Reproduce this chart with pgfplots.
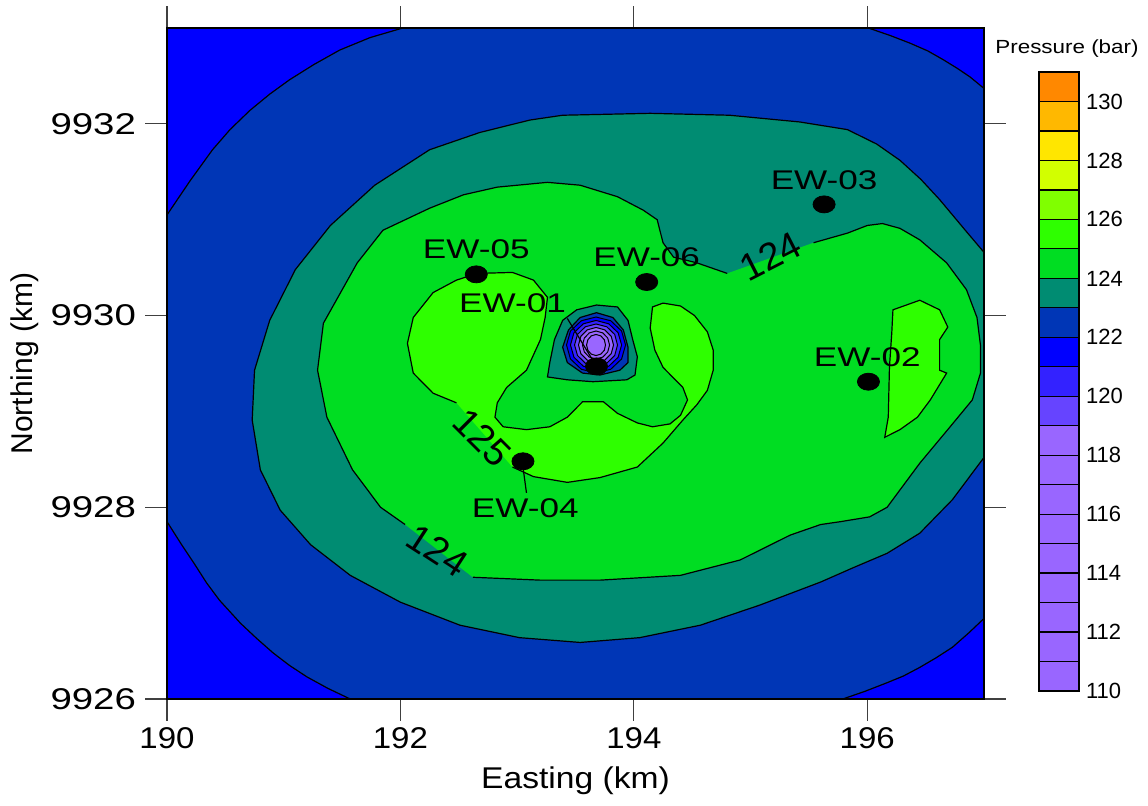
\documentclass[border=0pt]{standalone}
\usepackage{fontspec}
\setmainfont{Liberation Sans}
\usepackage{pgfplots}
\pgfplotsset{compat=1.18}
\definecolor{cOrange}{HTML}{FF8800}
\definecolor{cGold}{HTML}{FFB800}
\definecolor{cYellow}{HTML}{FFE600}
\definecolor{cYG}{HTML}{D2FF00}
\definecolor{cChart}{HTML}{80FF00}
\definecolor{cLGreen}{HTML}{2EFF00}
\definecolor{cGreen}{HTML}{00DD22}
\definecolor{cTeal}{HTML}{008C72}
\definecolor{cDBlue}{HTML}{0036B6}
\definecolor{cBlue}{HTML}{0000FF}
\definecolor{cBP}{HTML}{3322FF}
\definecolor{cPB}{HTML}{6644FF}
\definecolor{cLav}{HTML}{9966FF}
\begin{document}
\begin{tikzpicture}
\useasboundingbox (0,0) rectangle (574pt,402.5pt);
\begin{axis}[
 at={(83.5pt,53pt)}, anchor=south west, scale only axis, width=408.5pt, height=335.5pt,
 xmin=190, xmax=197, ymin=9926, ymax=9933,
 xtick={190,192,194,196}, xticklabels={190,192,194,196},
 ytick={9926,9928,9930,9932}, yticklabels={9926,9928,9930,9932},
 tick align=outside, xtick pos=both, ytick pos=both, major tick length=11pt,
 tick style={draw=black!75, line width=0.6pt},
 x tick label style={font=\fontsize{15}{18}\selectfont, xscale=1.1},
 y tick label style={font=\fontsize{15}{18}\selectfont, xscale=1.28},
 axis line style={black, line width=0.6pt},
 axis on top,
 xlabel={Easting (km)}, ylabel={Northing (km)},
 every axis x label/.style={at={(axis description cs:0.5,-0.122)}, anchor=center, font=\fontsize{15}{18}\selectfont, xscale=1.12},
 every axis y label/.style={at={(axis description cs:-0.174,0.5)}, anchor=center, rotate=90, font=\fontsize{15}{18}\selectfont},
]
% background level 121-122
\addplot[fill=cBlue, draw=none] coordinates {(190,9926)(197,9926)(197,9933)(190,9933)} -- cycle;
% 122-123
\addplot[fill=cDBlue, draw=black, line width=0.6pt] coordinates {
(192.02,9933.00)(196.01,9933.00)(196.20,9932.92)(196.37,9932.84)(196.52,9932.76)(196.65,9932.67)(196.77,9932.58)(196.88,9932.49)(197.00,9932.37)
(197.00,9926.84)(196.87,9926.69)(196.73,9926.54)(196.59,9926.43)(196.45,9926.33)(196.31,9926.24)(196.17,9926.17)(195.98,9926.08)(195.79,9926.00)
(191.57,9926.00)(191.38,9926.11)(191.20,9926.23)(191.05,9926.35)(190.91,9926.48)(190.77,9926.63)(190.63,9926.79)(190.45,9927.03)(190.34,9927.21)(190.24,9927.40)(190.12,9927.62)(190.00,9927.85)
(190.00,9931.05)(190.10,9931.23)(190.20,9931.41)(190.39,9931.73)(190.54,9931.94)(190.71,9932.14)(190.88,9932.31)(191.05,9932.46)(191.26,9932.62)(191.48,9932.77)(191.74,9932.90)} -- cycle;
% 123-124
\addplot[fill=cTeal, draw=black, line width=0.6pt] coordinates {
(193.39,9932.09)(194.14,9932.11)(194.82,9932.09)(195.42,9932.02)(195.83,9931.94)(196.08,9931.79)(196.28,9931.62)(196.46,9931.42)(196.62,9931.21)(196.84,9930.89)(197.00,9930.66)
(197.00,9928.52)(196.73,9928.08)(196.45,9927.73)(196.17,9927.52)(195.88,9927.37)(195.60,9927.22)(195.08,9926.98)(194.57,9926.77)(194.05,9926.64)(193.54,9926.59)(193.02,9926.64)(192.51,9926.77)(192.00,9927.01)(191.57,9927.29)(191.23,9927.61)(190.97,9927.97)(190.80,9928.39)(190.73,9928.91)(190.75,9929.43)(190.88,9929.95)(191.10,9930.48)(191.40,9930.94)(191.78,9931.36)(192.25,9931.73)(192.68,9931.91)(193.11,9932.04)} -- cycle;
% 124-125
\addplot[fill=cGreen, draw=none] coordinates {
(191.85,9930.89)(192.25,9931.12)(192.54,9931.26)(192.83,9931.34)(193.26,9931.39)(193.54,9931.36)(193.86,9931.24)(194.08,9931.10)(194.20,9931.00)(194.25,9930.76)(194.34,9930.61)(194.54,9930.55)(194.80,9930.44)
(195.54,9930.76)(195.83,9930.86)(196.00,9930.94)(196.13,9930.96)(196.28,9930.91)(196.45,9930.79)(196.68,9930.55)(196.85,9930.27)(196.94,9929.98)(196.97,9929.69)(196.97,9929.40)(196.90,9929.12)(196.71,9928.84)(196.45,9928.46)(196.17,9928.00)(196.02,9927.90)(195.77,9927.85)(195.60,9927.82)(195.34,9927.71)(194.91,9927.45)(194.40,9927.29)(193.71,9927.24)(193.20,9927.24)(192.62,9927.27)
(192.04,9927.82)(191.83,9928.00)(191.59,9928.39)(191.37,9928.94)(191.29,9929.43)(191.34,9929.92)(191.63,9930.55)} -- cycle;
\addplot[black, line width=0.6pt] coordinates {
(195.54,9930.76)(195.83,9930.86)(196.00,9930.94)(196.13,9930.96)(196.28,9930.91)(196.45,9930.79)(196.68,9930.55)(196.85,9930.27)(196.94,9929.98)(196.97,9929.69)(196.97,9929.40)(196.90,9929.12)(196.71,9928.84)(196.45,9928.46)(196.17,9928.00)(196.02,9927.90)(195.77,9927.85)(195.60,9927.82)(195.34,9927.71)(194.91,9927.45)(194.40,9927.29)(193.71,9927.24)(193.20,9927.24)(192.62,9927.27)};
\addplot[black, line width=0.6pt] coordinates {
(192.04,9927.82)(191.83,9928.00)(191.59,9928.39)(191.37,9928.94)(191.29,9929.43)(191.34,9929.92)(191.63,9930.55)
(191.85,9930.89)(192.25,9931.12)(192.54,9931.26)(192.83,9931.34)(193.26,9931.39)(193.54,9931.36)(193.86,9931.24)(194.08,9931.10)(194.20,9931.00)(194.25,9930.76)(194.34,9930.61)(194.54,9930.55)(194.80,9930.44)};
% 125-126 near EW-02
\addplot[fill=cLGreen, draw=black, line width=0.6pt] coordinates {
(196.22,9930.06)(196.45,9930.16)(196.62,9930.06)(196.69,9929.88)(196.62,9929.75)(196.62,9929.43)(196.68,9929.40)(196.54,9929.12)(196.43,9928.94)(196.28,9928.81)(196.15,9928.73)(196.18,9928.94)(196.19,9929.46)(196.21,9929.82)} -- cycle;
% 125-126 horseshoe
\addplot[fill=cLGreen, draw=none] coordinates {
(192.96,9928.42)(193.14,9928.32)(193.43,9928.26)(193.71,9928.31)(194.03,9928.42)(194.25,9928.67)(194.42,9928.91)(194.54,9929.07)(194.63,9929.22)(194.68,9929.43)(194.68,9929.64)(194.63,9929.83)(194.52,9930.00)(194.40,9930.10)(194.25,9930.13)(194.16,9930.09)
(194.14,9929.87)(194.18,9929.64)(194.25,9929.46)(194.42,9929.25)(194.46,9929.12)(194.40,9928.96)(194.31,9928.87)(194.16,9928.84)(194.03,9928.88)(193.86,9928.98)(193.74,9929.10)(193.56,9929.10)(193.43,9928.94)(193.28,9928.84)(193.08,9928.81)(192.88,9928.84)(192.81,9928.94)(192.83,9929.09)(192.91,9929.25)(193.08,9929.43)(193.20,9929.75)(193.24,9929.98)(193.26,9930.19)
(193.14,9930.37)(192.96,9930.45)(192.66,9930.44)(192.48,9930.37)(192.28,9930.24)(192.11,9929.98)(192.06,9929.71)(192.11,9929.40)(192.28,9929.19)(192.48,9929.09)} -- cycle;
\addplot[black, line width=0.6pt] coordinates {
(192.96,9928.42)(193.14,9928.32)(193.43,9928.26)(193.71,9928.31)(194.03,9928.42)(194.25,9928.67)(194.42,9928.91)(194.54,9929.07)(194.63,9929.22)(194.68,9929.43)(194.68,9929.64)(194.63,9929.83)(194.52,9930.00)(194.40,9930.10)(194.25,9930.13)(194.16,9930.09)
(194.14,9929.87)(194.18,9929.64)(194.25,9929.46)(194.42,9929.25)(194.46,9929.12)(194.40,9928.96)(194.31,9928.87)(194.16,9928.84)(194.03,9928.88)(193.86,9928.98)(193.74,9929.10)(193.56,9929.10)(193.43,9928.94)(193.28,9928.84)(193.08,9928.81)(192.88,9928.84)(192.81,9928.94)(192.83,9929.09)(192.91,9929.25)(193.08,9929.43)(193.20,9929.75)(193.24,9929.98)(193.26,9930.19)
(193.14,9930.37)(192.96,9930.45)(192.66,9930.44)(192.48,9930.37)(192.28,9930.24)(192.11,9929.98)(192.06,9929.71)(192.11,9929.40)(192.28,9929.19)(192.48,9929.09)};
% central depression
\addplot[fill=cTeal, draw=black, line width=0.6pt] coordinates {
(193.26,9929.36)(193.28,9929.51)(193.32,9929.75)(193.39,9929.95)(193.51,9930.06)(193.68,9930.11)(193.86,9930.09)(193.95,9929.95)(193.99,9929.75)(194.03,9929.57)(194.01,9929.38)(193.94,9929.33)(193.65,9929.31)(193.43,9929.33)} -- cycle;
\addplot[fill=cDBlue, draw=black, line width=0.6pt] coordinates {
(193.39,9929.67)(193.44,9929.85)(193.54,9929.98)(193.68,9930.03)(193.82,9929.98)(193.91,9929.85)(193.95,9929.67)(193.95,9929.51)(193.88,9929.43)(193.71,9929.38)(193.56,9929.40)(193.43,9929.51)} -- cycle;
\addplot[fill=cBlue, draw=black, line width=0.5pt] coordinates {
(193.929,9929.693)(193.895,9929.839)(193.802,9929.946)(193.676,9929.985)(193.550,9929.946)(193.457,9929.839)(193.423,9929.693)(193.457,9929.547)(193.550,9929.440)(193.676,9929.401)(193.802,9929.440)(193.895,9929.547)} -- cycle;
\addplot[fill=cBP, draw=black, line width=0.5pt] coordinates {
(193.895,9929.693)(193.865,9929.821)(193.785,9929.914)(193.676,9929.949)(193.567,9929.914)(193.487,9929.821)(193.457,9929.693)(193.487,9929.565)(193.567,9929.472)(193.676,9929.437)(193.785,9929.472)(193.865,9929.565)} -- cycle;
\addplot[fill=cPB, draw=black, line width=0.5pt] coordinates {
(193.860,9929.693)(193.836,9929.803)(193.768,9929.883)(193.676,9929.912)(193.584,9929.883)(193.517,9929.803)(193.492,9929.693)(193.517,9929.584)(193.584,9929.503)(193.676,9929.474)(193.768,9929.503)(193.836,9929.584)} -- cycle;
\addplot[fill=cLav, draw=black, line width=0.5pt] coordinates {
(193.826,9929.693)(193.806,9929.784)(193.751,9929.851)(193.676,9929.876)(193.601,9929.851)(193.546,9929.784)(193.526,9929.693)(193.546,9929.602)(193.601,9929.535)(193.676,9929.510)(193.751,9929.535)(193.806,9929.602)} -- cycle;
\addplot[fill=cLav, draw=black, line width=0.5pt] coordinates {
(193.792,9929.693)(193.776,9929.766)(193.734,9929.819)(193.676,9929.839)(193.618,9929.819)(193.576,9929.766)(193.560,9929.693)(193.576,9929.620)(193.618,9929.567)(193.676,9929.547)(193.734,9929.567)(193.776,9929.620)} -- cycle;
\addplot[fill=cLav, draw=black, line width=0.5pt] coordinates {
(193.757,9929.693)(193.747,9929.748)(193.717,9929.788)(193.676,9929.803)(193.635,9929.788)(193.606,9929.748)(193.595,9929.693)(193.606,9929.638)(193.635,9929.598)(193.676,9929.583)(193.717,9929.598)(193.747,9929.638)} -- cycle;
% leader lines
\addplot[black, line width=0.6pt] coordinates {(193.43,9929.97)(193.65,9929.53)};
\addplot[black, line width=0.6pt] coordinates {(193.05,9928.42)(193.08,9928.15)};
% wells
\addplot[only marks, mark=*, mark size=4.25pt, mark options={fill=black, draw=black, xscale=1.3}] coordinates {
(192.65,9930.43)(194.11,9930.35)(193.68,9929.47)(195.63,9931.16)(196.01,9929.31)(193.05,9928.48)};
\begin{scope}[every node/.style={font=\fontsize{13.5}{16}\selectfont, xscale=1.3}]
\node at (axis cs:192.65,9930.69) {EW-05};
\node at (axis cs:194.11,9930.61) {EW-06};
\node at (axis cs:192.96,9930.13) {EW-01};
\node at (axis cs:195.63,9931.41) {EW-03};
\node at (axis cs:196.00,9929.57) {EW-02};
\node at (axis cs:193.07,9927.99) {EW-04};
\end{scope}
\node[rotate=27, font=\fontsize{19}{22}\selectfont] at (axis cs:195.17,9930.62) {124};
\node[rotate=-33, font=\fontsize{19}{22}\selectfont] at (axis cs:192.32,9927.55) {124};
\node[rotate=-45, font=\fontsize{19}{22}\selectfont] at (axis cs:192.70,9928.73) {125};
\end{axis}
\begin{axis}[
 at={(519.5pt,57pt)}, anchor=south west, scale only axis, width=20pt, height=309.5pt,
 xmin=0, xmax=1, ymin=110, ymax=131, xtick=\empty,
 ytick={110,112,114,116,118,120,122,124,126,128,130},
 yticklabels={110,112,114,116,118,120,122,124,126,128,130},
 yticklabel pos=right, ytick style={draw=none},
 tick label style={font=\fontsize{11}{13}\selectfont},
 axis line style={black, line width=0.6pt},
 title={Pressure (bar)},
 title style={at={(0.5,1)}, anchor=south, yshift=-2pt, xshift=4pt, font=\fontsize{9.5}{11}\selectfont, xscale=1.18},
]
\addplot[fill=cLav, draw=black, line width=0.6pt] coordinates {(0,110)(1,110)(1,111)(0,111)} -- cycle;
\addplot[fill=cLav, draw=black, line width=0.6pt] coordinates {(0,111)(1,111)(1,112)(0,112)} -- cycle;
\addplot[fill=cLav, draw=black, line width=0.6pt] coordinates {(0,112)(1,112)(1,113)(0,113)} -- cycle;
\addplot[fill=cLav, draw=black, line width=0.6pt] coordinates {(0,113)(1,113)(1,114)(0,114)} -- cycle;
\addplot[fill=cLav, draw=black, line width=0.6pt] coordinates {(0,114)(1,114)(1,115)(0,115)} -- cycle;
\addplot[fill=cLav, draw=black, line width=0.6pt] coordinates {(0,115)(1,115)(1,116)(0,116)} -- cycle;
\addplot[fill=cLav, draw=black, line width=0.6pt] coordinates {(0,116)(1,116)(1,117)(0,117)} -- cycle;
\addplot[fill=cLav, draw=black, line width=0.6pt] coordinates {(0,117)(1,117)(1,118)(0,118)} -- cycle;
\addplot[fill=cLav, draw=black, line width=0.6pt] coordinates {(0,118)(1,118)(1,119)(0,119)} -- cycle;
\addplot[fill=cPB, draw=black, line width=0.6pt] coordinates {(0,119)(1,119)(1,120)(0,120)} -- cycle;
\addplot[fill=cBP, draw=black, line width=0.6pt] coordinates {(0,120)(1,120)(1,121)(0,121)} -- cycle;
\addplot[fill=cBlue, draw=black, line width=0.6pt] coordinates {(0,121)(1,121)(1,122)(0,122)} -- cycle;
\addplot[fill=cDBlue, draw=black, line width=0.6pt] coordinates {(0,122)(1,122)(1,123)(0,123)} -- cycle;
\addplot[fill=cTeal, draw=black, line width=0.6pt] coordinates {(0,123)(1,123)(1,124)(0,124)} -- cycle;
\addplot[fill=cGreen, draw=black, line width=0.6pt] coordinates {(0,124)(1,124)(1,125)(0,125)} -- cycle;
\addplot[fill=cLGreen, draw=black, line width=0.6pt] coordinates {(0,125)(1,125)(1,126)(0,126)} -- cycle;
\addplot[fill=cChart, draw=black, line width=0.6pt] coordinates {(0,126)(1,126)(1,127)(0,127)} -- cycle;
\addplot[fill=cYG, draw=black, line width=0.6pt] coordinates {(0,127)(1,127)(1,128)(0,128)} -- cycle;
\addplot[fill=cYellow, draw=black, line width=0.6pt] coordinates {(0,128)(1,128)(1,129)(0,129)} -- cycle;
\addplot[fill=cGold, draw=black, line width=0.6pt] coordinates {(0,129)(1,129)(1,130)(0,130)} -- cycle;
\addplot[fill=cOrange, draw=black, line width=0.6pt] coordinates {(0,130)(1,130)(1,131)(0,131)} -- cycle;
\end{axis}
\end{tikzpicture}
\end{document}
